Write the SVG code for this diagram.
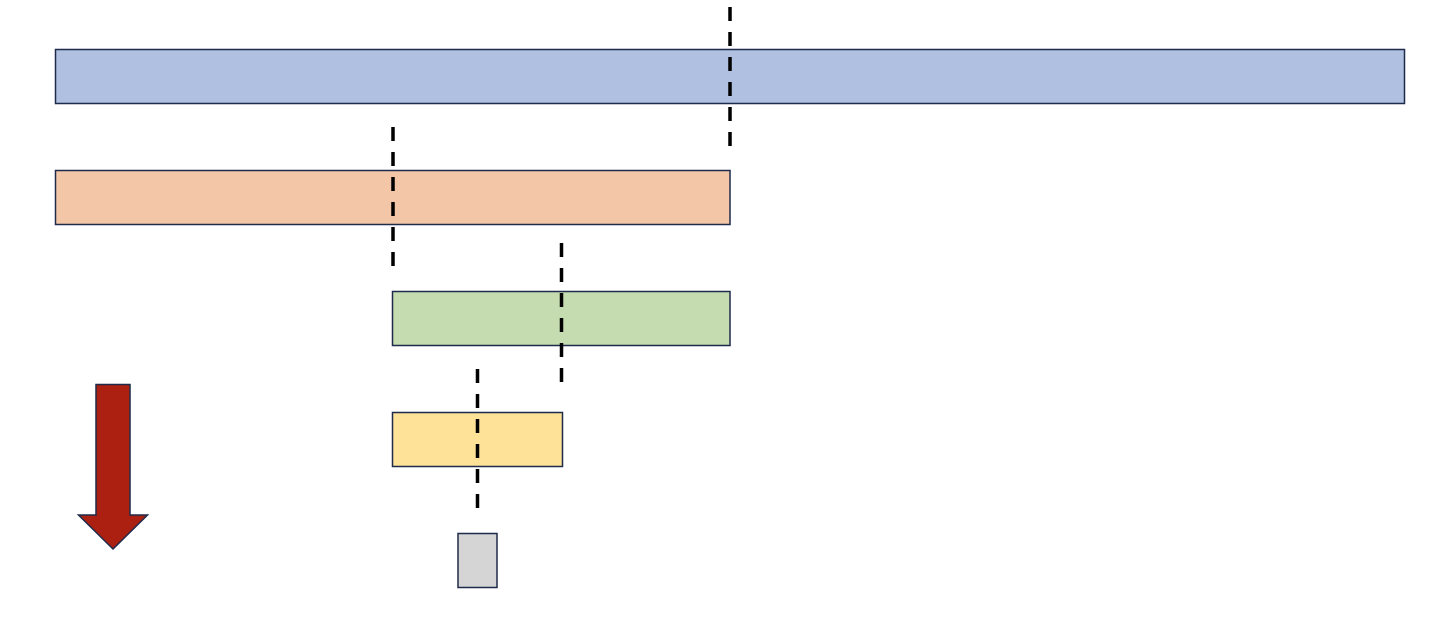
<svg xmlns="http://www.w3.org/2000/svg" width="1440" height="642" viewBox="0 0 1440 642">
<style>
.box{stroke:#1F2B4A;stroke-width:1.5}
.cut{stroke:#000;stroke-width:3.5;stroke-dasharray:14 11;fill:none}
</style>
<rect width="1440" height="642" fill="#fff"/>
<g id="bar1"><rect class="box" x="55.5" y="49.5" width="1349" height="54" fill="#AFC0E1"/></g>
<g id="bar2"><rect class="box" x="55.5" y="170.5" width="674.5" height="54" fill="#F3C6A8"/></g>
<g id="bar3"><rect class="box" x="392.5" y="291.5" width="337.5" height="54" fill="#C5DCB0"/></g>
<g id="bar4"><rect class="box" x="392.5" y="412.5" width="170" height="54" fill="#FDE297"/></g>
<g id="bar5"><rect class="box" x="458" y="533.5" width="39" height="54" fill="#D5D5D5"/></g>
<g id="arrow"><polygon class="box" points="96,384.5 130,384.5 130,515 147.5,515 113,549 78.5,515 96,515" fill="#AC2012"/></g>
<g id="connectors">
<line class="cut" x1="730" y1="7" x2="730" y2="146"/>
<line class="cut" x1="393" y1="127" x2="393" y2="266"/>
<line class="cut" x1="561.5" y1="243" x2="561.5" y2="382"/>
<line class="cut" x1="477.5" y1="369" x2="477.5" y2="508"/>
</g>
</svg>
